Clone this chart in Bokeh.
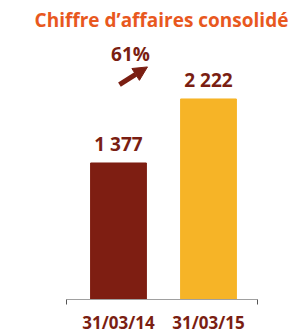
from bokeh.plotting import figure
from bokeh.models import Range1d, LinearAxis, FixedTicker, Label, Arrow, NormalHead, ColumnDataSource
from bokeh.core.properties import value
from bokeh.embed import file_html
from bokeh.resources import INLINE

# data
categories = ["31/03/14", "31/03/15"]
values = [1377, 2222]
value_labels = ["1 377", "2 222"]
bar_colors = ["#7E1E12", "#F6B427"]
title_text = "Chiffre d\u2019affaires consolidé"
growth = round((values[1] / values[0] - 1) * 100)

DARK = "#7A1E12"
FONT = "Open Sans"

xs = list(range(len(categories)))
y0 = -425
frame_h = 299
y_end = y0 + frame_h * 13.2
axis_lo, axis_hi = -0.578, 1.544

p = figure(frame_width=289, frame_height=frame_h, output_backend="svg", toolbar_location=None,
           x_range=Range1d(-1.311, 1.9), y_range=Range1d(y0, y_end),
           min_border_left=0, min_border_right=0, min_border_top=0, min_border_bottom=0,
           outline_line_color=None, x_axis_location=None, y_axis_location=None)
p.grid.visible = False

src = ColumnDataSource(dict(x=xs, top=values, color=bar_colors, label=value_labels))
p.vbar(x="x", top="top", bottom=y0, width=0.62, color="color", source=src)
p.text(x="x", y="top", text="label", source=src, text_align="center", text_baseline="bottom",
       y_offset=-6, text_font=value(FONT), text_font_style="bold", text_font_size="19px",
       text_color=DARK)

ax = LinearAxis(ticker=FixedTicker(ticks=xs, minor_ticks=[axis_lo, axis_hi]),
                bounds=(axis_lo, axis_hi), axis_line_color="#A0A0A0", axis_line_width=1.2,
                major_tick_line_color=None, major_tick_out=0, major_tick_in=0,
                minor_tick_line_color="#555555", minor_tick_out=5, minor_tick_in=0,
                major_label_standoff=6,
                major_label_text_font=FONT, major_label_text_font_style="bold",
                major_label_text_font_size="17px", major_label_text_color=DARK)
ax.major_label_overrides = {i: c for i, c in enumerate(categories)}
p.add_layout(ax, "below")

p.add_layout(Label(x=0.478, y=3269, text=title_text, text_align="center",
                   text_baseline="alphabetic", text_font=FONT, text_font_style="bold",
                   text_font_size="19px", text_color="#E8581E"))
p.add_layout(Label(x=0.133, y=2816, text=f"{growth}%", text_align="center",
                   text_baseline="middle", text_font=FONT, text_font_style="bold",
                   text_font_size="19px", text_color=DARK))
p.add_layout(Arrow(x_start=0.011, y_start=2410, x_end=0.322, y_end=2645, line_width=5,
                   line_color=DARK,
                   end=NormalHead(size=14, fill_color=DARK, line_color=DARK, line_width=1)))

open("out.html", "w").write(file_html(p, INLINE))
